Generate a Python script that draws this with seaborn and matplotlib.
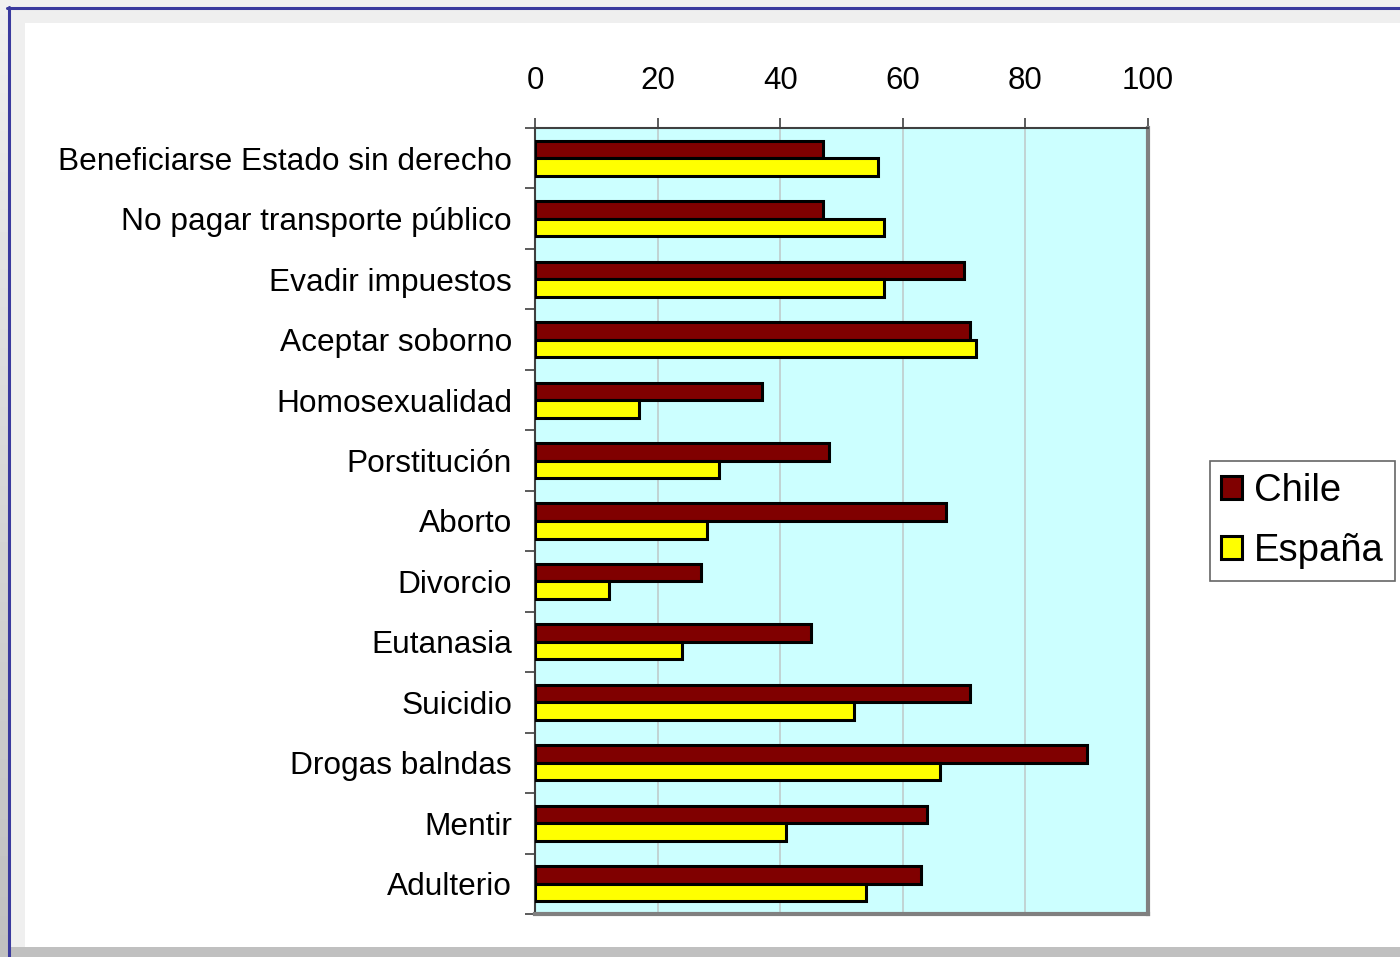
import matplotlib
matplotlib.use("Agg")
import matplotlib.pyplot as plt
import numpy as np
import pandas as pd
import seaborn as sns
from matplotlib.patches import Rectangle
from matplotlib.lines import Line2D

sns.set_style("white")
plt.rcParams['font.family'] = ['Liberation Sans', 'DejaVu Sans']
plt.rcParams['text.color'] = 'black'
plt.rcParams['xtick.labelcolor'] = 'black'
plt.rcParams['ytick.labelcolor'] = 'black'

categorias = ['Beneficiarse Estado sin derecho', 'No pagar transporte público',
              'Evadir impuestos', 'Aceptar soborno', 'Homosexualidad',
              'Porstitución', 'Aborto', 'Divorcio', 'Eutanasia', 'Suicidio',
              'Drogas balndas', 'Mentir', 'Adulterio']
chile = [47, 47, 70, 71, 37, 48, 67, 27, 45, 71, 90, 64, 63]
espana = [56, 57, 57, 72, 17, 30, 28, 12, 24, 52, 66, 41, 54]
paises = ['Chile', 'España']
colores = ['#800000', '#ffff00']
ticks_x = [0, 20, 40, 60, 80, 100]

df = pd.DataFrame({'categoria': categorias * 2,
                   'valor': chile + espana,
                   'pais': ['Chile'] * len(chile) + ['España'] * len(espana)})

fig = plt.figure(figsize=(14, 9.57), dpi=100)

# background frame (slide-like border)
bg = fig.add_axes([0, 0, 1, 1], zorder=-10)
grad = np.linspace(0.94, 0.75, 256).reshape(-1, 1)
bg.imshow(grad, cmap='gray', vmin=0, vmax=1, aspect='auto', extent=[0, 1, 0, 1])
bg.set_xlim(0, 1)
bg.set_ylim(0, 1)
bg.axis('off')
bg.add_patch(Rectangle((10 / 1400, 10 / 957), 1, 1 - 20 / 957, color='#efefef', lw=0))
bg.add_patch(Rectangle((25 / 1400, 10 / 957), 1, 1 - 33 / 957, color='white', lw=0))
bg.add_patch(Rectangle((10 / 1400, 0), 1, 10 / 957, color='#c0c0c0', lw=0))
bg.add_line(Line2D([8.5 / 1400, 8.5 / 1400], [0, 1 - 7 / 957], color='#3a3a9e', lw=2.2))
bg.add_line(Line2D([7 / 1400, 1], [1 - 7.5 / 957, 1 - 7.5 / 957], color='#3a3a9e', lw=2.2))

ax = fig.add_axes([535 / 1400, 1 - 914 / 957, 613 / 1400, 786 / 957])
sns.barplot(data=df, x='valor', y='categoria', hue='pais', hue_order=paises,
            palette=colores, orient='h', width=0.58, dodge=True,
            edgecolor='black', linewidth=2.2, saturation=1, ax=ax, zorder=3)

ax.set_facecolor('#ccffff')
ax.set_xlim(0, 100)
ax.set_ylim(len(categorias) - 0.5, -0.5)
ax.set_xlabel('')
ax.set_ylabel('')

ax.xaxis.tick_top()
ax.set_xticks(ticks_x)
ax.set_xticklabels([str(t) for t in ticks_x])
ax.tick_params(axis='x', top=True, bottom=False, direction='out', length=7,
               width=1.2, color='#404040', pad=16, labelsize=22.5)
ax.grid(axis='x', color='#c0d0d0', lw=1.3, zorder=0)
ax.set_axisbelow(True)

ax.set_yticks(range(len(categorias)))
ax.set_yticklabels(categorias)
ax.set_yticks(np.arange(-0.5, len(categorias), 1), minor=True)
ax.tick_params(axis='y', which='major', left=False, pad=13, labelsize=22.8)
ax.tick_params(axis='y', which='minor', left=True, direction='out', length=7,
               width=1.2, color='#404040')

for side in ['top', 'left']:
    ax.spines[side].set_color('#404040')
    ax.spines[side].set_linewidth(1.5)
for side in ['right', 'bottom']:
    ax.spines[side].set_color('#808080')
    ax.spines[side].set_linewidth(3)

handles, labels = ax.get_legend_handles_labels()
ax.legend_.remove()
leg = fig.legend(handles, labels, loc='center', bbox_to_anchor=(0.9304, 0.4556),
                 fontsize=27.5, frameon=True, fancybox=False, edgecolor='#404040',
                 handlelength=0.55, handleheight=0.55, handletextpad=0.3,
                 labelspacing=0.65, borderpad=0.3, borderaxespad=0)
leg.get_frame().set_linewidth(1.2)

fig.savefig('out.png', dpi=100)
